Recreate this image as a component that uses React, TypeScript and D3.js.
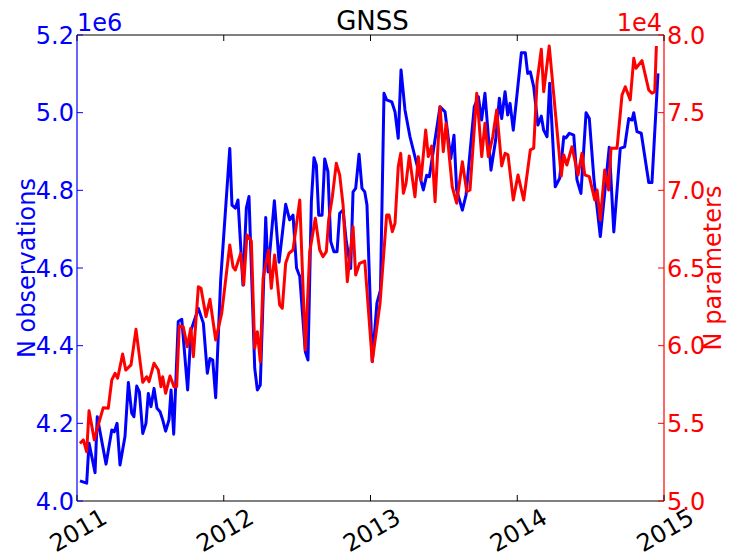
import React from 'react';
import * as d3 from 'd3';

// ---- data (time as decimal year) ----
const yearTicks = [2011, 2012, 2013, 2014, 2015];
const obsTicks = [4.0, 4.2, 4.4, 4.6, 4.8, 5.0, 5.2]; // ×1e6
const parTicks = [5.0, 5.5, 6.0, 6.5, 7.0, 7.5, 8.0]; // ×1e4

// N observations (×1e6)
const obsTime = [
  2011.020, 2011.066, 2011.082, 2011.123, 2011.138, 2011.198, 2011.237, 2011.254, 2011.273, 2011.293,
  2011.327, 2011.350, 2011.373, 2011.388, 2011.407, 2011.425, 2011.448, 2011.470, 2011.486, 2011.504,
  2011.525, 2011.545, 2011.566, 2011.584, 2011.604, 2011.627, 2011.641, 2011.659, 2011.690, 2011.714,
  2011.754, 2011.777, 2011.827, 2011.861, 2011.888, 2011.906, 2011.925, 2011.945, 2011.979, 2012.041,
  2012.056, 2012.079, 2012.097, 2012.131, 2012.154, 2012.172, 2012.211, 2012.229, 2012.249, 2012.286,
  2012.302, 2012.345, 2012.377, 2012.422, 2012.449, 2012.472, 2012.496, 2012.518, 2012.556, 2012.574,
  2012.597, 2012.615, 2012.631, 2012.647, 2012.670, 2012.688, 2012.710, 2012.729, 2012.751, 2012.772,
  2012.790, 2012.813, 2012.835, 2012.865, 2012.881, 2012.899, 2012.922, 2012.942, 2012.961, 2012.976,
  2013.012, 2013.044, 2013.068, 2013.092, 2013.110, 2013.145, 2013.167, 2013.189, 2013.208, 2013.235,
  2013.269, 2013.337, 2013.360, 2013.383, 2013.401, 2013.474, 2013.508, 2013.547, 2013.569, 2013.587,
  2013.626, 2013.651, 2013.707, 2013.735, 2013.757, 2013.780, 2013.821, 2013.853, 2013.878, 2013.894,
  2013.917, 2013.935, 2013.951, 2013.973, 2014.028, 2014.055, 2014.071, 2014.089, 2014.112, 2014.141,
  2014.164, 2014.180, 2014.203, 2014.221, 2014.259, 2014.289, 2014.317, 2014.332, 2014.355, 2014.385,
  2014.407, 2014.434, 2014.469, 2014.491, 2014.523, 2014.566, 2014.627, 2014.658, 2014.702, 2014.732,
  2014.760, 2014.782, 2014.794, 2014.816, 2014.845, 2014.896, 2014.918, 2014.959,
];
const obsValue = [
  4.052, 4.046, 4.149, 4.073, 4.217, 4.095, 4.183, 4.178, 4.200, 4.093,
  4.166, 4.305, 4.226, 4.217, 4.296, 4.281, 4.174, 4.200, 4.277, 4.243,
  4.290, 4.239, 4.230, 4.209, 4.180, 4.209, 4.286, 4.172, 4.462, 4.468,
  4.286, 4.440, 4.496, 4.458, 4.329, 4.367, 4.363, 4.266, 4.569, 4.908,
  4.762, 4.754, 4.775, 4.556, 4.754, 4.784, 4.342, 4.286, 4.299, 4.730,
  4.590, 4.773, 4.615, 4.764, 4.724, 4.736, 4.600, 4.578, 4.384, 4.363,
  4.771, 4.884, 4.865, 4.736, 4.736, 4.881, 4.848, 4.668, 4.642, 4.642,
  4.741, 4.749, 4.668, 4.599, 4.796, 4.805, 4.893, 4.805, 4.796, 4.762,
  4.359, 4.510, 4.543, 5.050, 5.033, 5.028, 5.002, 4.934, 5.110, 5.007,
  4.938, 4.835, 4.801, 4.839, 4.835, 5.015, 5.002, 4.882, 4.942, 4.801,
  4.749, 4.788, 5.015, 5.041, 4.981, 5.050, 4.852, 4.930, 5.037, 4.985,
  5.054, 4.994, 5.024, 4.955, 5.154, 5.154, 5.101, 5.105, 5.067, 4.968,
  4.991, 4.955, 4.938, 5.076, 4.809, 4.831, 4.938, 4.935, 4.947, 4.942,
  4.827, 4.792, 5.000, 4.985, 4.827, 4.681, 4.911, 4.693, 4.908, 4.912,
  4.985, 4.981, 5.000, 4.951, 4.947, 4.820, 4.820, 5.101,
];

// N parameters (×1e4)
const parTime = [
  2011.020, 2011.043, 2011.066, 2011.082, 2011.118, 2011.141, 2011.179, 2011.213, 2011.237, 2011.259,
  2011.277, 2011.311, 2011.332, 2011.368, 2011.402, 2011.448, 2011.475, 2011.491, 2011.525, 2011.554,
  2011.572, 2011.584, 2011.604, 2011.634, 2011.661, 2011.679, 2011.697, 2011.724, 2011.752, 2011.775,
  2011.793, 2011.827, 2011.845, 2011.879, 2011.906, 2011.945, 2011.986, 2012.041, 2012.063, 2012.079,
  2012.116, 2012.136, 2012.158, 2012.188, 2012.211, 2012.229, 2012.249, 2012.268, 2012.306, 2012.324,
  2012.347, 2012.381, 2012.399, 2012.422, 2012.445, 2012.472, 2012.518, 2012.556, 2012.586, 2012.624,
  2012.654, 2012.676, 2012.699, 2012.715, 2012.740, 2012.767, 2012.790, 2012.813, 2012.842, 2012.881,
  2012.899, 2012.926, 2012.961, 2013.012, 2013.065, 2013.110, 2013.126, 2013.149, 2013.167, 2013.189,
  2013.206, 2013.224, 2013.242, 2013.264, 2013.303, 2013.326, 2013.344, 2013.376, 2013.394, 2013.417,
  2013.440, 2013.474, 2013.496, 2013.515, 2013.557, 2013.587, 2013.626, 2013.656, 2013.678, 2013.724,
  2013.758, 2013.780, 2013.803, 2013.833, 2013.860, 2013.894, 2013.917, 2013.937, 2013.973, 2014.005,
  2014.044, 2014.089, 2014.112, 2014.135, 2014.164, 2014.180, 2014.218, 2014.300, 2014.317, 2014.338,
  2014.373, 2014.414, 2014.441, 2014.460, 2014.491, 2014.528, 2014.544, 2014.566, 2014.596, 2014.623,
  2014.639, 2014.680, 2014.714, 2014.736, 2014.770, 2014.794, 2014.809, 2014.850, 2014.896, 2014.918,
  2014.937, 2014.948,
];
const parValue = [
  5.371, 5.393, 5.317, 5.581, 5.393, 5.478, 5.601, 5.597, 5.779, 5.822,
  5.790, 5.946, 5.843, 5.876, 6.105, 5.764, 5.800, 5.768, 5.887, 5.843,
  5.736, 5.800, 5.693, 5.805, 5.736, 5.736, 6.127, 6.122, 5.993, 6.112,
  5.929, 6.380, 6.369, 6.187, 6.299, 6.037, 6.208, 6.648, 6.508, 6.487,
  6.595, 6.391, 6.713, 6.674, 5.983, 6.090, 5.897, 6.434, 6.616, 6.369,
  6.584, 6.262, 6.241, 6.530, 6.595, 6.616, 6.938, 5.972, 6.605, 6.820,
  6.616, 6.573, 6.605, 6.809, 6.959, 7.174, 7.099, 6.906, 6.412, 6.766,
  6.455, 6.530, 6.545, 5.897, 6.273, 6.841, 6.841, 6.734, 6.788, 7.152,
  7.238, 6.981, 7.045, 7.221, 6.959, 7.217, 7.067, 7.388, 7.217, 7.285,
  6.927, 7.538, 7.249, 7.432, 7.023, 6.917, 7.184, 6.991, 7.002, 7.625,
  7.217, 7.432, 7.217, 7.345, 7.517, 7.157, 7.238, 7.228, 6.938, 7.099,
  6.938, 7.260, 7.271, 7.699, 7.908, 7.635, 7.929, 7.092, 7.228, 7.163,
  7.281, 7.099, 7.238, 7.099, 7.088, 6.938, 7.002, 6.809, 7.131, 7.002,
  7.271, 7.271, 7.614, 7.667, 7.582, 7.850, 7.786, 7.835, 7.646, 7.625,
  7.635, 7.929,
];

const W = 729;
const H = 557;
const PL = 77, PR = 664, PT = 35, PB = 501;
const FONT = "'DejaVu Sans', sans-serif";
const FS = 24;
const TICK = 6;
const SPINE = '#555';

export default function App() {
  const x = d3.scaleLinear().domain([2011, 2015]).range([PL, PR]);
  const yL = d3.scaleLinear().domain([4.0, 5.2]).range([PB, PT]);
  const yR = d3.scaleLinear().domain([5.0, 8.0]).range([PB, PT]);

  const obs: [number, number][] = obsTime.map((t, i) => [t, obsValue[i]]);
  const par: [number, number][] = parTime.map((t, i) => [t, parValue[i]]);

  const lineL = d3.line<[number, number]>().x(d => x(d[0])).y(d => yL(d[1]));
  const lineR = d3.line<[number, number]>().x(d => x(d[0])).y(d => yR(d[1]));

  return (
    <svg width={W} height={H} style={{ position: 'absolute', left: 0, top: 0, display: 'block', background: '#fff' }}
      fontFamily={FONT}>
      <rect x={0} y={0} width={W} height={H} fill="#fff" />
      {/* lines */}
      <path d={lineL(obs) || ''} fill="none" stroke="#0000ff" strokeWidth={3} strokeLinejoin="round" strokeLinecap="butt" />
      <path d={lineR(par) || ''} fill="none" stroke="#ff0000" strokeWidth={3} strokeLinejoin="round" strokeLinecap="butt" />

      {/* spines */}
      <line x1={PL} x2={PR} y1={PT} y2={PT} stroke={SPINE} strokeWidth={1.5} />
      <line x1={PL} x2={PR} y1={PB} y2={PB} stroke={SPINE} strokeWidth={1.5} />
      <line x1={PL} x2={PL} y1={PT} y2={PB} stroke="#0000ff" strokeWidth={1.2} />
      <line x1={PR} x2={PR} y1={PT} y2={PB} stroke="#ff0000" strokeWidth={1.2} />

      {/* x ticks */}
      {yearTicks.map(t => (
        <g key={'xt' + t}>
          <line x1={x(t)} x2={x(t)} y1={PB} y2={PB - TICK} stroke="#000" strokeWidth={1} />
          <line x1={x(t)} x2={x(t)} y1={PT} y2={PT + TICK} stroke="#000" strokeWidth={1} />
          <text transform={`translate(${x(t) + 1},${530}) rotate(-30)`} textAnchor="middle" dy="0.36em"
            fontSize={FS} fill="#000">{t}</text>
        </g>
      ))}

      {/* left ticks */}
      {obsTicks.map(v => (
        <g key={'yl' + v}>
          <line x1={PL} x2={PL + TICK} y1={yL(v)} y2={yL(v)} stroke="#0000ff" strokeWidth={1} />
          <text x={PL - 3} y={yL(v)} dy="0.36em" textAnchor="end" fontSize={FS} fill="#0000ff">{v.toFixed(1)}</text>
        </g>
      ))}

      {/* right ticks */}
      {parTicks.map(v => (
        <g key={'yr' + v}>
          <line x1={PR} x2={PR - TICK} y1={yR(v)} y2={yR(v)} stroke="#ff0000" strokeWidth={1} />
          <text x={PR + 3} y={yR(v)} dy="0.36em" textAnchor="start" fontSize={FS} fill="#ff0000">{v.toFixed(1)}</text>
        </g>
      ))}

      {/* offset texts */}
      <text x={PL} y={31} fontSize={FS} fill="#0000ff">1e6</text>
      <text x={PR - 2} y={31} fontSize={FS} fill="#ff0000" textAnchor="end">1e4</text>

      {/* title */}
      <text x={(PL + PR) / 2 + 2} y={30} fontSize={26} fill="#000" textAnchor="middle">GNSS</text>

      {/* axis labels */}
      <text transform={`translate(35,${(PT + PB) / 2}) rotate(-90)`} textAnchor="middle" fontSize={FS} fill="#0000ff">N observations</text>
      <text transform={`translate(721,${(PT + PB) / 2}) rotate(-90)`} textAnchor="middle" fontSize={FS} fill="#ff0000">N parameters</text>
    </svg>
  );
}
